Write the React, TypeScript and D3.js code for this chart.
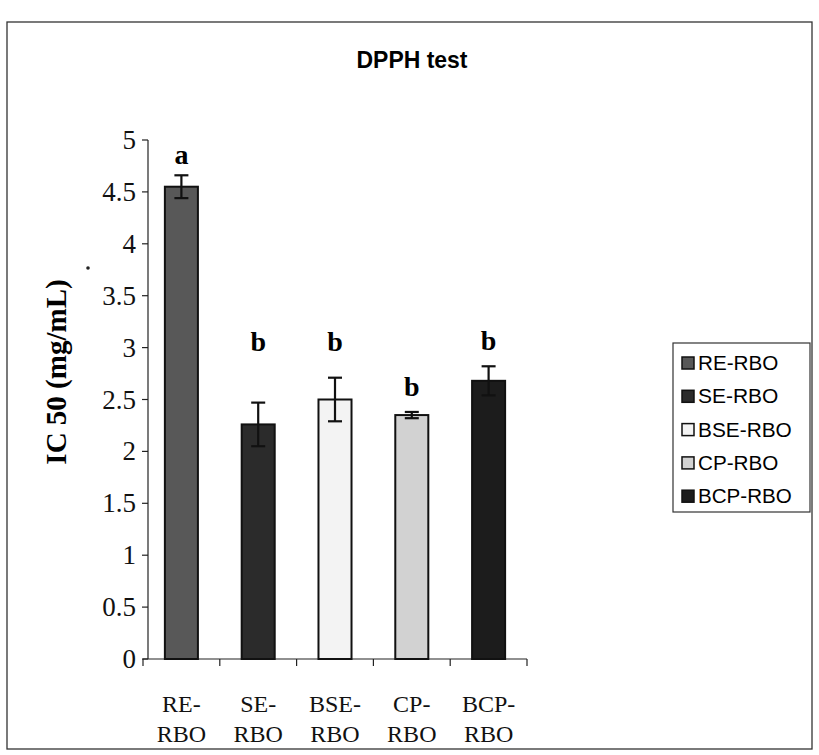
import React from "react";
import * as d3 from "d3";

const categories = ["RE-RBO", "SE-RBO", "BSE-RBO", "CP-RBO", "BCP-RBO"];
const values = [4.55, 2.26, 2.5, 2.35, 2.68];
const errors = [0.11, 0.21, 0.21, 0.03, 0.14];
const letters = ["a", "b", "b", "b", "b"];
const letterY = [4.77, 2.97, 2.97, 2.53, 2.98];
const colors = ["#585858", "#2b2b2b", "#f3f3f3", "#d2d2d2", "#1c1c1c"];
const yTicks = [0, 0.5, 1, 1.5, 2, 2.5, 3, 3.5, 4, 4.5, 5];

export default function App() {
  const W = 819, H = 755;
  const x = d3.scaleBand<string>().domain(categories).range([143, 527]).paddingInner(0.57).paddingOuter(0.285);
  const y = d3.scaleLinear().domain([0, 5]).range([659, 140]);
  const serif = "'Liberation Serif', 'Times New Roman', serif";
  const sans = "'Liberation Sans', Arial, sans-serif";
  const x0 = 143;
  const legendX = 673, legendY = 343;
  return (
    <svg width={W} height={H} style={{ position: "absolute", left: 0, top: 0, background: "#fff" }}>
      <rect x={7} y={22} width={805} height={727} fill="#fff" stroke="#333" strokeWidth={1.3} />
      <text x={412} y={68} textAnchor="middle" fontFamily={sans} fontWeight="bold" fontSize={24} textLength={111} lengthAdjust="spacingAndGlyphs">DPPH test</text>
      {/* y axis */}
      <line x1={x0 + 5} x2={x0 + 5} y1={y(5)} y2={y(0)} stroke="#222" strokeWidth={1.2} />
      {yTicks.map((t) => (
        <g key={t}>
          <line x1={x0 - 1} x2={x0 + 5} y1={y(t)} y2={y(t)} stroke="#222" strokeWidth={1.2} />
          <text x={136} y={y(t) + 9} textAnchor="end" fontFamily={serif} fontSize={27} fill="#111">{t}</text>
        </g>
      ))}
      {/* x axis */}
      <line x1={x0} x2={527} y1={y(0)} y2={y(0)} stroke="#222" strokeWidth={1.2} />
      {[...categories.map((c) => (x(c) as number) - x.step() * 0.285), 527].map((v, i) => (
        <line key={i} x1={v} x2={v} y1={y(0)} y2={y(0) + 7} stroke="#222" strokeWidth={1.2} />
      ))}
      {categories.map((c, i) => {
        const cx = (x(c) as number) + x.bandwidth() / 2;
        const [a, b] = c.split("-");
        return (
          <g key={c}>
            <rect x={x(c)} y={y(values[i])} width={x.bandwidth()} height={y(0) - y(values[i])} fill={colors[i]} stroke="#111" strokeWidth={2} />
            <line x1={cx} x2={cx} y1={y(values[i] + errors[i])} y2={y(values[i] - errors[i])} stroke="#111" strokeWidth={2.2} />
            <line x1={cx - 7} x2={cx + 7} y1={y(values[i] + errors[i])} y2={y(values[i] + errors[i])} stroke="#111" strokeWidth={2.2} />
            <line x1={cx - 7} x2={cx + 7} y1={y(values[i] - errors[i])} y2={y(values[i] - errors[i])} stroke="#111" strokeWidth={2.2} />
            <text x={cx} y={y(letterY[i])} textAnchor="middle" fontFamily={serif} fontWeight="bold" fontSize={28}>{letters[i]}</text>
            <text x={cx} y={712} textAnchor="middle" fontFamily={serif} fontSize={24} fill="#111">{a + "-"}</text>
            <text x={cx} y={742} textAnchor="middle" fontFamily={serif} fontSize={24} fill="#111">{b}</text>
          </g>
        );
      })}
      <text transform="translate(66,372) rotate(-90)" textAnchor="middle" fontFamily={serif} fontWeight="bold" fontSize={29}>IC 50 (mg/mL)</text>
      <circle cx={88} cy={268} r={1.8} fill="#222" />
      {/* legend */}
      <rect x={legendX} y={legendY} width={137} height={169} fill="#fff" stroke="#333" strokeWidth={1.2} />
      {categories.map((c, i) => (
        <g key={c}>
          <rect x={legendX + 9} y={legendY + 14 + i * 33.3} width={12} height={12} fill={colors[i]} stroke="#111" strokeWidth={1.5} />
          <text x={legendX + 25} y={legendY + 27 + i * 33.3} fontFamily={sans} fontSize={20} textLength={c.length * 13.4} lengthAdjust="spacingAndGlyphs">{c}</text>
        </g>
      ))}
    </svg>
  );
}
